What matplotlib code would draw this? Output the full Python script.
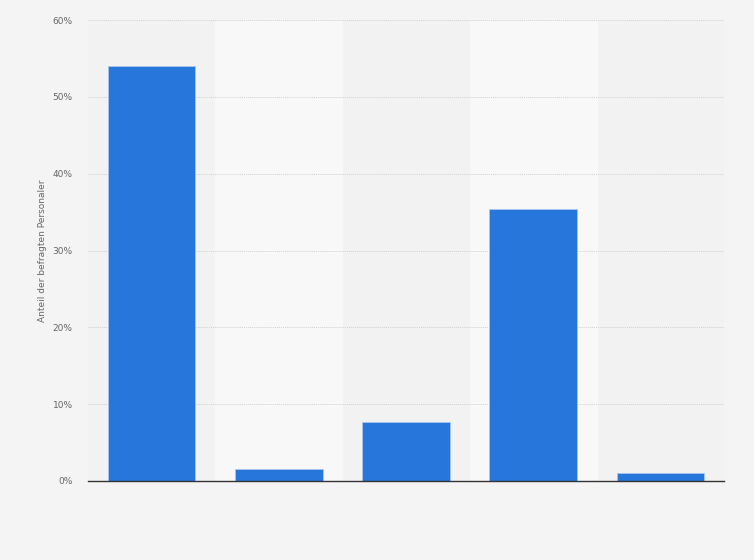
import matplotlib
matplotlib.use("Agg")
import matplotlib.pyplot as plt
from matplotlib.ticker import FuncFormatter

# Werte (Anteil in %)
categories = ["A", "B", "C", "D", "E"]
values = [54.0, 1.5, 7.7, 35.4, 1.1]
yticks = [0, 10, 20, 30, 40, 50, 60]

fig = plt.figure(figsize=(7.54, 5.6), dpi=100)
fig.patch.set_facecolor("#f4f4f4")
ax = fig.add_axes([88 / 754, 1 - 481 / 560, 636 / 754, 461 / 560])
ax.set_facecolor("#f2f2f2")

x = list(range(len(categories)))
# abwechselnd hellere Streifen
for i in x:
    if i % 2 == 1:
        ax.axvspan(i - 0.5, i + 0.5, color="#f8f8f8", zorder=0)

ax.bar(x, values, width=0.69, color="#2776dc", edgecolor="#a9c6ee", linewidth=0.6, zorder=3)

ax.set_xlim(-0.5, len(categories) - 0.5)
ax.set_ylim(0, 60)
ax.set_yticks(yticks)
ax.yaxis.set_major_formatter(FuncFormatter(lambda v, p: f"{int(v)}%"))
ax.set_xticks([])
ax.tick_params(axis="y", length=0, pad=11, labelsize=6.5, labelcolor="#666666")
ax.grid(axis="y", color="#d0d0d0", linestyle=(0, (1, 1)), linewidth=0.7, zorder=1)

for s in ["top", "right", "left"]:
    ax.spines[s].set_visible(False)
ax.spines["bottom"].set_color("#333333")
ax.spines["bottom"].set_linewidth(1.0)
ax.spines["bottom"].set_zorder(4)

ax.set_ylabel("Anteil der befragten Personaler", fontsize=6.5, color="#666666", labelpad=4)

fig.savefig("out.png", dpi=100, facecolor=fig.get_facecolor())
